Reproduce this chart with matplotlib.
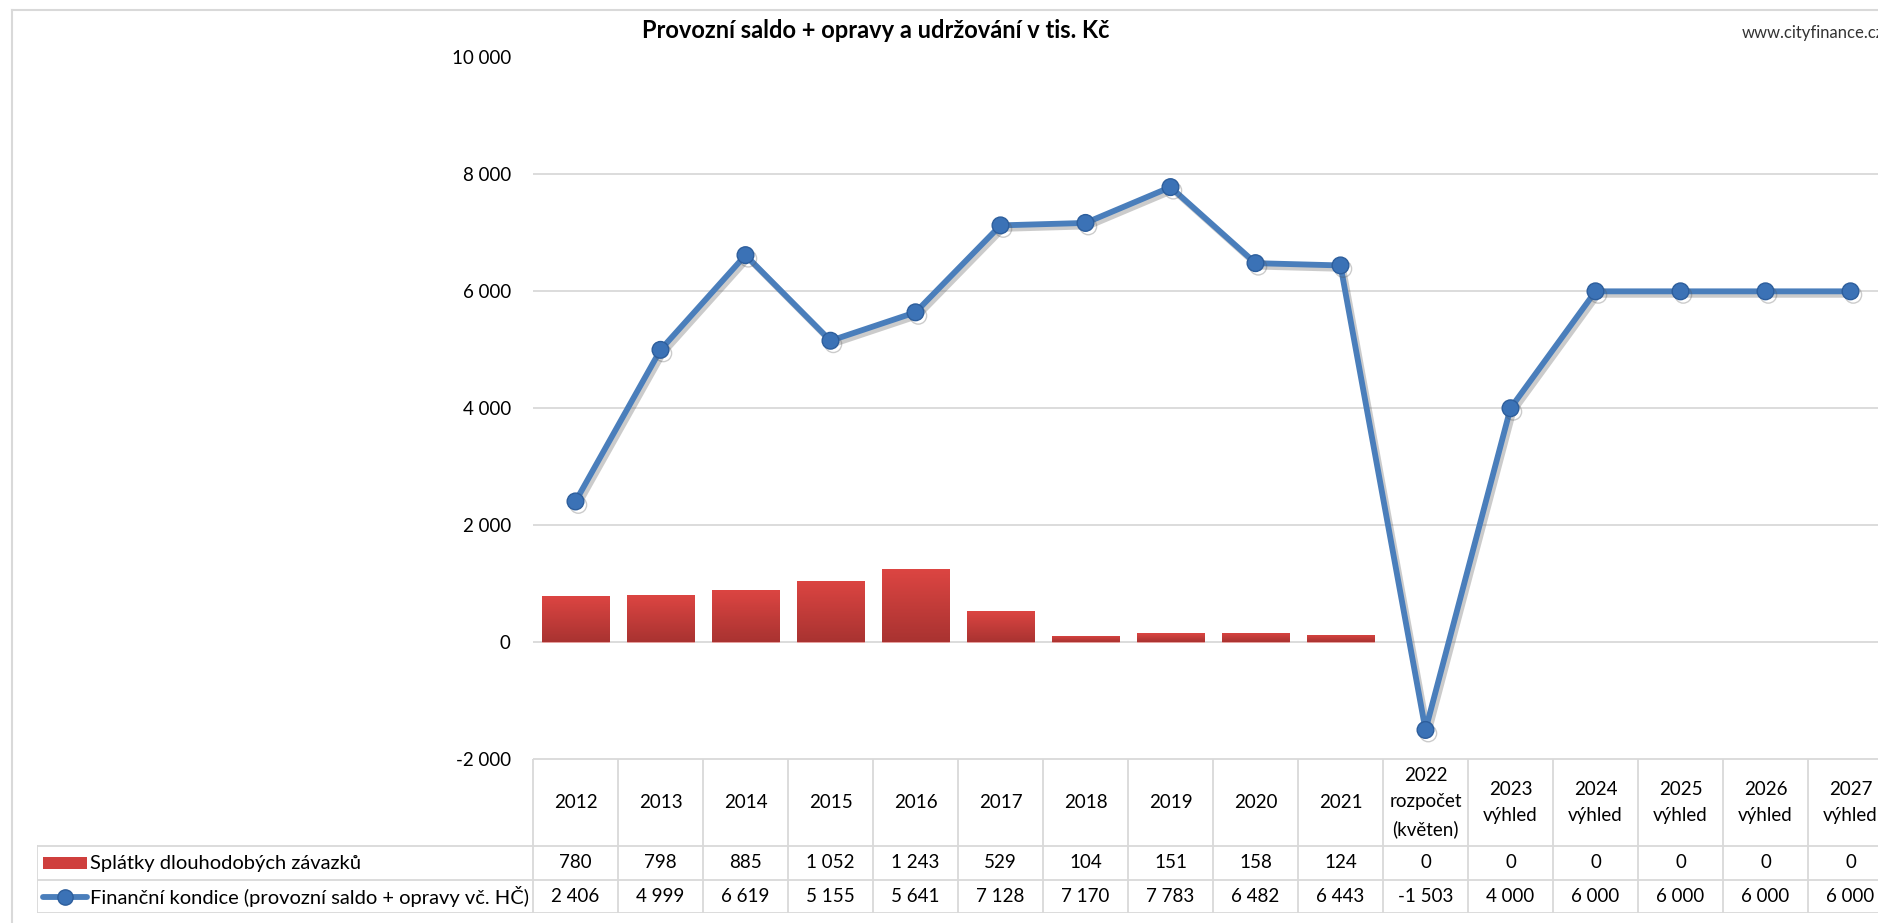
import numpy as np
import matplotlib
matplotlib.use("Agg")
import matplotlib.pyplot as plt
import matplotlib.patheffects as pe
from matplotlib.lines import Line2D
from matplotlib.patches import Rectangle

plt.rcParams['font.family'] = ['Lato', 'DejaVu Sans']

# data
years = ['2012', '2013', '2014', '2015', '2016', '2017', '2018', '2019', '2020', '2021',
         '2022\nrozpočet\n(květen)', '2023\nvýhled', '2024\nvýhled', '2025\nvýhled',
         '2026\nvýhled', '2027\nvýhled']
splatky = [780, 798, 885, 1052, 1243, 529, 104, 151, 158, 124, 0, 0, 0, 0, 0, 0]
kondice = [2406, 4999, 6619, 5155, 5641, 7128, 7170, 7783, 6482, 6443, -1503,
           4000, 6000, 6000, 6000, 6000]
yticks = [-2000, 0, 2000, 4000, 6000, 8000, 10000]
label_bars = 'Splátky dlouhodobých závazků'
label_line = 'Finanční kondice (provozní saldo + opravy vč. HČ)'
title = 'Provozní saldo + opravy a udržování v tis. Kč'

W, H = 1878, 923
fig = plt.figure(figsize=(W / 100, H / 100), dpi=100)

def fx(px):
    return px / W

def fy(py):
    return 1 - py / H

def fmt(v):
    return f"{v:,}".replace(',', ' ')

n = len(years)
colw = 85.0
left, top, bottom = 533, 57.5, 759
right = left + n * colw
tab_left, tab_bottom = 37, 913
grid_c = '#d9d9d9'
blue = '#4a7ebb'

# main plot
ax = fig.add_axes([fx(left), fy(bottom), fx(right) - fx(left), fy(top) - fy(bottom)])
x = np.arange(n)
ax.set_yticks(yticks)
ax.set_yticklabels([fmt(t) for t in yticks], fontsize=13.5)
ax.tick_params(axis='y', length=0, pad=16)
ax.set_xticks([])
for s in ax.spines.values():
    s.set_visible(False)
ax.grid(axis='y', color=grid_c, lw=1.3)
ax.set_axisbelow(True)

bars = ax.bar(x, splatky, width=0.79, color='#c93c3a', edgecolor='#eba5a3', lw=0.6, zorder=2)
grad = np.linspace(0, 1, 64).reshape(-1, 1)
cmap = matplotlib.colors.LinearSegmentedColormap.from_list('r', ['#a93331', '#dc4542'])
for b in bars:
    if b.get_height() > 0:
        bx, bw, bh = b.get_x(), b.get_width(), b.get_height()
        im = ax.imshow(grad, extent=(bx, bx + bw, 0, bh), origin='lower', cmap=cmap,
                       aspect='auto', zorder=2.5)
        im.set_clip_path(b)
    else:
        b.set_visible(False)

ax.plot(x, kondice, color=blue, lw=4.2, marker='o', ms=12,
        mfc='#3b72b6', mec='#2d5e9c', mew=1.0, zorder=4, solid_capstyle='round',
        path_effects=[pe.SimpleLineShadow(offset=(2, -2.5), shadow_color='#555555', alpha=0.3),
                      pe.Normal()])
ax.set_xlim(-0.5, n - 0.5)
ax.set_ylim(-2000, 10000)

# data table
tx0 = -0.5 - (left - tab_left) / colw
tab = fig.add_axes([fx(tab_left), fy(tab_bottom), fx(right) - fx(tab_left), fy(bottom) - fy(tab_bottom)])
tab.set_xlim(tx0, n - 0.5)
tab.set_ylim(tab_bottom, bottom)
tab.axis('off')
r1, r2 = 846, 880
for k in range(n + 1):
    tab.plot([k - 0.5, k - 0.5], [bottom, tab_bottom], color=grid_c, lw=1.3)
tab.plot([tx0, tx0], [r1, tab_bottom], color=grid_c, lw=1.3)
for yy in (r1, r2, tab_bottom):
    tab.plot([tx0, n - 0.5], [yy, yy], color=grid_c, lw=1.3)
tab.plot([-0.5, n - 0.5], [bottom, bottom], color=grid_c, lw=1.3)

for i in range(n):
    tab.text(x[i], (bottom + r1) / 2, years[i], ha='center', va='center', fontsize=13.5,
             linespacing=1.65)
    tab.text(x[i], (r1 + r2) / 2, fmt(splatky[i]), ha='center', va='center', fontsize=13.5)
    tab.text(x[i], (r2 + tab_bottom) / 2, fmt(kondice[i]), ha='center', va='center', fontsize=13.5)

def pcol(px):
    return -0.5 + (px - left) / colw

tab.add_patch(Rectangle((pcol(43), (r1 + r2) / 2 - 6), pcol(87) - pcol(43), 12,
                        color='#cf3f3d', lw=0))
tab.plot([pcol(43), pcol(87)], [(r2 + tab_bottom) / 2] * 2, color=blue, lw=4.2,
         solid_capstyle='round')
tab.plot([pcol(65)], [(r2 + tab_bottom) / 2], marker='o', ms=11, mfc='#3b72b6', mec='#2d5e9c')
tab.text(pcol(90), (r1 + r2) / 2, label_bars, ha='left', va='center', fontsize=14.5)
tab.text(pcol(90), (r2 + tab_bottom) / 2, label_line, ha='left', va='center', fontsize=14.5)

# title, source, border
fig.text(fx(876), fy(30), title, ha='center', va='center', fontsize=17, fontweight='bold')
fig.text(fx(1742), fy(33), 'www.cityfinance.cz', ha='left', va='center', fontsize=12,
         color='#333333')
fig.add_artist(Line2D([fx(12), fx(12)], [fy(10), 0], color=grid_c, lw=1.5))
fig.add_artist(Line2D([fx(12), 1], [fy(10), fy(10)], color=grid_c, lw=1.5))

fig.savefig('out.png', dpi=100)
